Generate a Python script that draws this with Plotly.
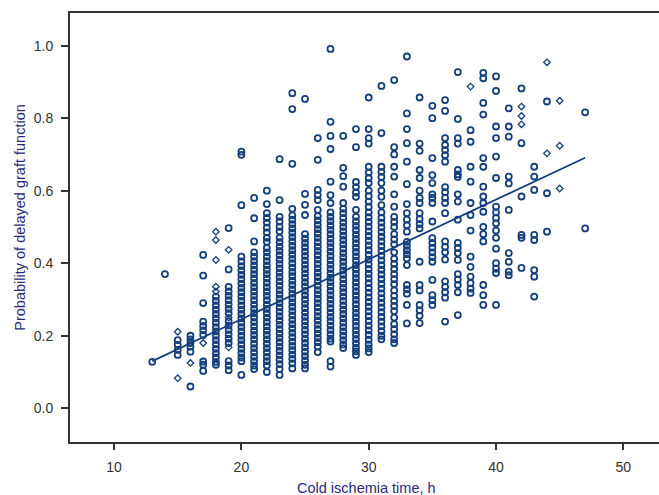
import plotly.graph_objects as go

hours = [13, 14, 15, 16, 17, 18, 19, 20, 21, 22, 23, 24, 25, 26, 27, 28, 29, 30,
         31, 32, 33, 34, 35, 36, 37, 38, 39, 40, 41, 42, 43, 44, 45, 46, 47]

circle_probs = [
    [0.128],
    [0.370],
    [0.188, 0.175, 0.161, 0.147],
    [0.200, 0.190, 0.180, 0.170, 0.156, 0.060],
    [0.423, 0.366, 0.290, 0.239, 0.227, 0.215, 0.202, 0.129, 0.120, 0.103],
    [0.308, 0.296, 0.284, 0.272, 0.260, 0.248, 0.236, 0.224, 0.212, 0.200, 0.188, 0.176,
     0.164, 0.152, 0.140, 0.128, 0.120],
    [0.497, 0.383, 0.335, 0.322, 0.310, 0.298, 0.286, 0.274, 0.262, 0.240, 0.228, 0.216,
     0.204, 0.192, 0.180, 0.130, 0.118, 0.105],
    [0.708, 0.699, 0.560, 0.418, 0.405, 0.392, 0.380, 0.368, 0.356, 0.344, 0.332, 0.320,
     0.308, 0.296, 0.284, 0.272, 0.260, 0.248, 0.236, 0.224, 0.212, 0.200, 0.188, 0.176,
     0.164, 0.152, 0.140, 0.130, 0.092],
    [0.580, 0.524, 0.460, 0.430, 0.418, 0.406, 0.394, 0.382, 0.370, 0.358, 0.346, 0.334,
     0.322, 0.310, 0.298, 0.286, 0.274, 0.262, 0.250, 0.238, 0.226, 0.214, 0.202, 0.190,
     0.178, 0.166, 0.154, 0.142, 0.130, 0.118, 0.108],
    [0.600, 0.563, 0.538, 0.525, 0.512, 0.498, 0.485, 0.470, 0.459, 0.442, 0.430, 0.418,
     0.406, 0.394, 0.382, 0.370, 0.358, 0.346, 0.334, 0.322, 0.310, 0.298, 0.286, 0.274,
     0.262, 0.250, 0.238, 0.226, 0.214, 0.202, 0.190, 0.178, 0.166, 0.154, 0.142, 0.130,
     0.118, 0.100],
    [0.687, 0.574, 0.528, 0.515, 0.500, 0.488, 0.470, 0.458, 0.446, 0.434, 0.422, 0.410,
     0.398, 0.386, 0.374, 0.362, 0.350, 0.338, 0.326, 0.314, 0.302, 0.290, 0.278, 0.266,
     0.254, 0.242, 0.230, 0.218, 0.206, 0.194, 0.182, 0.170, 0.158, 0.146, 0.134, 0.122,
     0.108, 0.092],
    [0.869, 0.825, 0.674, 0.550, 0.532, 0.520, 0.508, 0.496, 0.484, 0.472, 0.460, 0.448,
     0.436, 0.424, 0.412, 0.400, 0.388, 0.376, 0.364, 0.352, 0.340, 0.328, 0.316, 0.304,
     0.292, 0.280, 0.268, 0.256, 0.244, 0.232, 0.220, 0.208, 0.196, 0.184, 0.172, 0.160,
     0.148, 0.136, 0.124, 0.110],
    [0.853, 0.591, 0.561, 0.533, 0.480, 0.468, 0.456, 0.444, 0.432, 0.420, 0.408, 0.396,
     0.384, 0.372, 0.360, 0.348, 0.336, 0.324, 0.312, 0.300, 0.288, 0.276, 0.264, 0.252,
     0.240, 0.228, 0.216, 0.204, 0.192, 0.180, 0.168, 0.156, 0.144, 0.132, 0.120, 0.110],
    [0.745, 0.685, 0.602, 0.588, 0.574, 0.547, 0.530, 0.518, 0.506, 0.494, 0.482, 0.470,
     0.458, 0.446, 0.434, 0.422, 0.410, 0.398, 0.386, 0.374, 0.362, 0.350, 0.338, 0.326,
     0.314, 0.302, 0.290, 0.278, 0.266, 0.254, 0.242, 0.230, 0.218, 0.206, 0.194, 0.182,
     0.170, 0.155],
    [0.991, 0.790, 0.751, 0.715, 0.625, 0.588, 0.566, 0.540, 0.528, 0.516, 0.504, 0.492,
     0.480, 0.468, 0.456, 0.444, 0.432, 0.420, 0.408, 0.396, 0.384, 0.372, 0.360, 0.348,
     0.336, 0.324, 0.312, 0.300, 0.288, 0.276, 0.264, 0.252, 0.240, 0.228, 0.216, 0.204,
     0.192, 0.184, 0.130, 0.115],
    [0.751, 0.663, 0.640, 0.611, 0.566, 0.550, 0.538, 0.525, 0.512, 0.500, 0.488, 0.476,
     0.464, 0.452, 0.440, 0.428, 0.416, 0.404, 0.392, 0.380, 0.368, 0.356, 0.344, 0.332,
     0.320, 0.308, 0.296, 0.284, 0.272, 0.260, 0.248, 0.236, 0.224, 0.212, 0.200, 0.188,
     0.176, 0.166],
    [0.770, 0.720, 0.624, 0.610, 0.595, 0.583, 0.547, 0.528, 0.515, 0.503, 0.491, 0.479,
     0.467, 0.455, 0.443, 0.431, 0.419, 0.407, 0.395, 0.383, 0.371, 0.359, 0.347, 0.335,
     0.323, 0.311, 0.299, 0.287, 0.275, 0.263, 0.251, 0.239, 0.227, 0.215, 0.203, 0.191,
     0.179, 0.167, 0.157, 0.147],
    [0.857, 0.770, 0.745, 0.730, 0.666, 0.650, 0.635, 0.621, 0.600, 0.585, 0.570, 0.555,
     0.540, 0.527, 0.514, 0.501, 0.488, 0.475, 0.462, 0.449, 0.436, 0.423, 0.410, 0.397,
     0.384, 0.371, 0.358, 0.345, 0.332, 0.319, 0.306, 0.293, 0.280, 0.267, 0.254, 0.241,
     0.228, 0.215, 0.202, 0.189, 0.176, 0.165, 0.155],
    [0.889, 0.759, 0.666, 0.652, 0.638, 0.621, 0.600, 0.583, 0.560, 0.540, 0.525, 0.512,
     0.499, 0.486, 0.473, 0.460, 0.447, 0.434, 0.421, 0.408, 0.395, 0.382, 0.369, 0.356,
     0.343, 0.330, 0.317, 0.304, 0.291, 0.278, 0.265, 0.252, 0.239, 0.226, 0.213, 0.200,
     0.190],
    [0.905, 0.720, 0.700, 0.666, 0.639, 0.590, 0.556, 0.528, 0.514, 0.500, 0.480, 0.466,
     0.452, 0.430, 0.412, 0.398, 0.384, 0.370, 0.356, 0.342, 0.325, 0.310, 0.296, 0.282,
     0.268, 0.250, 0.232, 0.218, 0.204, 0.190, 0.180],
    [0.970, 0.813, 0.770, 0.731, 0.680, 0.618, 0.563, 0.538, 0.520, 0.505, 0.487, 0.459,
     0.448, 0.436, 0.425, 0.413, 0.395, 0.340, 0.328, 0.316, 0.285, 0.234],
    [0.857, 0.730, 0.710, 0.657, 0.635, 0.600, 0.580, 0.566, 0.538, 0.522, 0.508, 0.496,
     0.404, 0.340, 0.325, 0.285, 0.270, 0.255, 0.235],
    [0.834, 0.800, 0.690, 0.643, 0.621, 0.590, 0.580, 0.566, 0.515, 0.469, 0.456, 0.443,
     0.430, 0.417, 0.404, 0.354, 0.312, 0.298, 0.285],
    [0.850, 0.820, 0.745, 0.726, 0.712, 0.698, 0.680, 0.610, 0.596, 0.580, 0.566, 0.538,
     0.460, 0.445, 0.430, 0.410, 0.350, 0.335, 0.320, 0.305, 0.239],
    [0.927, 0.798, 0.745, 0.730, 0.657, 0.645, 0.638, 0.590, 0.570, 0.520, 0.456, 0.442,
     0.428, 0.409, 0.370, 0.355, 0.340, 0.320, 0.257],
    [0.767, 0.735, 0.666, 0.625, 0.566, 0.533, 0.490, 0.418, 0.390, 0.363, 0.345, 0.330,
     0.318],
    [0.925, 0.910, 0.842, 0.810, 0.690, 0.666, 0.611, 0.584, 0.566, 0.542, 0.500, 0.480,
     0.460, 0.340, 0.312, 0.285],
    [0.915, 0.875, 0.777, 0.745, 0.694, 0.635, 0.556, 0.540, 0.525, 0.510, 0.490, 0.470,
     0.440, 0.400, 0.385, 0.373, 0.285],
    [0.827, 0.777, 0.749, 0.639, 0.620, 0.547, 0.428, 0.404, 0.377, 0.367],
    [0.882, 0.731, 0.584, 0.478, 0.470, 0.387],
    [0.666, 0.639, 0.602, 0.478, 0.464, 0.381, 0.363, 0.308],
    [0.846, 0.593, 0.487],
    [],
    [],
    [0.816, 0.496],
]

diamond_probs = [
    [], [], [0.211, 0.083], [0.125], [0.180],
    [0.487, 0.464, 0.409, 0.335, 0.322],
    [0.437, 0.250, 0.168],
    [], [], [], [], [], [], [], [], [], [], [], [], [], [], [], [], [], [],
    [0.887], [], [], [],
    [0.832, 0.806, 0.783],
    [],
    [0.954, 0.703],
    [0.848, 0.724, 0.606],
    [], [],
]

fit_hours = [13, 47]
fit_probs = [0.130, 0.691]

x_ticks = [10, 20, 30, 40, 50]
y_ticks = [0.0, 0.2, 0.4, 0.6, 0.8, 1.0]

BLUE = "#143f7c"
NAVY = "#2a2a7c"
FONT = "Liberation Sans, Arial, sans-serif"

cx, cy, dx, dy = [], [], [], []
for h, vals in zip(hours, circle_probs):
    cx += [h] * len(vals)
    cy += vals
for h, vals in zip(hours, diamond_probs):
    dx += [h] * len(vals)
    dy += vals

fig = go.Figure()
fig.add_trace(go.Scatter(
    x=cx, y=cy, mode="markers",
    marker=dict(symbol="circle-open", size=6, color=BLUE, line=dict(width=1.8, color=BLUE)),
    showlegend=False, hoverinfo="skip"))
fig.add_trace(go.Scatter(
    x=dx, y=dy, mode="markers",
    marker=dict(symbol="diamond-open", size=5, color=BLUE, line=dict(width=1.3, color=BLUE)),
    showlegend=False, hoverinfo="skip"))
fig.add_trace(go.Scatter(
    x=fit_hours, y=fit_probs, mode="lines",
    line=dict(color=BLUE, width=1.8),
    showlegend=False, hoverinfo="skip"))

fig.update_layout(
    width=659, height=495,
    margin=dict(l=70, r=0, t=13, b=53, autoexpand=False),
    paper_bgcolor="white", plot_bgcolor="white",
    font=dict(family=FONT, size=14, color="#333333"),
    xaxis=dict(range=[6.54, 52.8], tickvals=x_ticks, ticks="outside", ticklen=6,
               tickwidth=1.5, tickcolor="#333333", showline=True, linewidth=1.8,
               linecolor="#333333", mirror=True, showgrid=False, zeroline=False,
               ticklabelstandoff=5, tickfont=dict(size=14, color="#333333")),
    yaxis=dict(range=[-0.093, 1.09], tickvals=y_ticks, tickformat=".1f", ticks="outside",
               ticklen=7, tickwidth=1.5, tickcolor="#333333", showline=True,
               linewidth=1.8, linecolor="#333333", showgrid=False, zeroline=False,
               ticklabelstandoff=5, tickfont=dict(size=14, color="#333333")),
    annotations=[
        dict(text="Cold ischemia time, h", xref="paper", yref="paper", x=0.503, y=-0.107,
             xanchor="center", yanchor="middle", showarrow=False,
             font=dict(family=FONT, size=14.5, color=NAVY)),
        dict(text="Probability of delayed graft function", xref="paper", yref="paper",
             x=-0.085, y=0.525, xanchor="center", yanchor="middle", textangle=-90,
             showarrow=False, font=dict(family=FONT, size=14.5, color=NAVY)),
    ],
)

fig.write_html("out.html", config={"displayModeBar": False},
               post_script="document.body.style.margin='0';document.body.style.padding='0';")
